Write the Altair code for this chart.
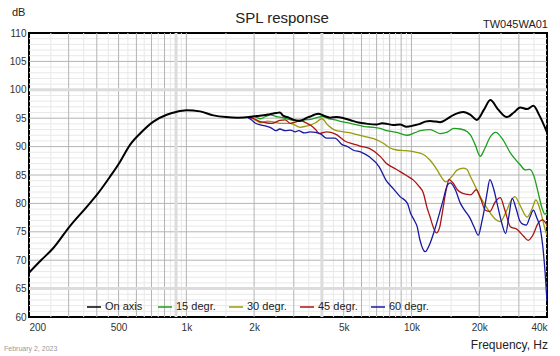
import altair as alt
import pandas as pd

# ---------------- data ----------------
series_names = ["On axis", "15 degr.", "30 degr.", "45 degr.", "60 degr."]
series_colors = ["#000000", "#1e9e1e", "#9a9a0c", "#aa1414", "#1818a0"]

freq_on = [200, 225, 256, 304, 361, 400, 458, 507, 562, 623, 714, 818, 900, 1000, 1150, 1320,
           1500, 1700, 1900, 2050, 2200, 2350, 2500, 2600, 2700, 2850, 3000, 3200, 3400, 3550,
           3700, 3850, 4100, 4350, 4650, 5000, 5400, 5900, 6400, 7000, 7400, 7800, 8300, 8900,
           9500, 10200, 10900, 11500, 12100, 12800, 13400, 14300, 15400, 17000, 18300, 19500,
           21000, 22400, 24300, 26500, 28500, 30400, 32600, 34800, 37000, 40000]
spl_on = [67.8, 69.9, 72.1, 76.0, 79.4, 81.5, 84.7, 87.3, 90.3, 92.3, 94.4, 95.6, 96.1, 96.4, 96.2, 95.5,
          95.2, 95.1, 95.2, 95.4, 95.5, 95.7, 95.9, 96.0, 95.4, 95.1, 94.7, 94.5, 95.0, 95.3,
          95.6, 95.8, 95.4, 95.1, 95.2, 95.0, 94.6, 94.2, 94.0, 93.9, 94.1, 94.0, 93.8, 93.9,
          93.5, 93.7, 94.0, 94.4, 94.5, 94.4, 94.3, 94.8, 95.6, 96.1, 95.6, 94.7,
          96.5, 98.2, 96.5, 95.2, 96.0, 96.9, 96.6, 97.2, 95.5, 92.5]

freq_15 = [1900, 2000, 2130, 2250, 2360, 2500, 2610, 2800, 2990, 3250, 3550, 3800, 4040, 4300,
           4570, 4900, 5340, 5800, 6200, 6800, 7260, 7780, 8600, 9550, 10300, 10940, 12100, 13400,
           14500, 15400, 16500, 17700, 18300, 19200, 20200, 21200, 22300, 23700, 25300, 27500,
           30400, 32000, 33500, 35000, 36500, 38000, 39200, 40000]
spl_15 = [95.2, 95.3, 94.9, 95.3, 95.6, 95.3, 95.2, 94.9, 94.6, 94.7, 94.8, 95.1, 95.3, 94.9,
          94.7, 94.4, 94.1, 93.8, 93.5, 93.4, 93.2, 92.8, 92.5, 92.0, 92.4, 92.8, 93.0, 92.3,
          92.6, 93.2, 93.1, 92.6, 92.0, 90.3, 88.3, 89.7, 91.6, 92.5, 91.4, 88.9,
          86.8, 85.9, 86.0, 84.8, 82.0, 79.2, 78.1, 78.5]

freq_30 = [1900, 2000, 2130, 2300, 2450, 2600, 2780, 2900, 3100, 3200, 3400, 3550, 3750, 4000,
           4250, 4570, 5000, 5500, 6300, 7000, 7500, 8000, 8600, 9300, 10200, 11300, 12100, 13000,
           13600, 14200, 15000, 16000, 17000, 17600, 18300, 19200, 20200, 21300, 22400, 23600,
           24800, 26300, 27700, 28800, 30500, 32600, 34300, 35700, 37500, 39000, 40000]
spl_30 = [95.2, 94.8, 94.2, 94.5, 94.3, 94.1, 94.1, 94.1, 93.6, 93.4, 93.6, 93.8, 94.2, 94.9,
          93.8, 92.9, 92.6, 92.3, 91.7, 91.2, 90.6, 89.8, 89.4, 89.3, 89.1, 88.6, 87.6, 85.9,
          84.6, 83.8, 84.6, 85.9, 86.2, 86.0, 84.7, 83.0, 81.2, 79.6, 78.3, 77.2,
          76.8, 78.5, 80.5, 81.2, 79.5, 77.6, 79.0, 80.6, 78.5, 75.8, 74.4]

freq_45 = [1900, 2000, 2130, 2250, 2400, 2600, 2750, 2900, 3050, 3200, 3400, 3550, 3750, 3900,
           4200, 4600, 5100, 5500, 5900, 6500, 7300, 7700, 8300, 8900, 9500, 10200, 10800, 11300,
           11700, 12100, 12500, 12900, 13300, 13700, 14200, 14700, 15300, 16000, 16800, 17600,
           18300, 19400, 20300, 21300, 22300, 23500, 24800, 26000, 27500, 29500, 31500, 33000,
           34500, 36500, 38200, 40000]
spl_45 = [95.2, 94.9, 94.4, 94.2, 94.1, 94.6, 94.7, 94.1, 94.3, 94.6, 94.2, 93.8, 93.0, 92.3,
          92.6, 92.2, 90.9, 90.5, 90.1, 89.7, 88.2, 87.1, 86.3, 85.6, 84.9, 84.1, 83.0, 81.8,
          79.4, 77.6, 75.8, 74.8, 75.6, 78.3, 82.0, 84.2, 83.6, 82.4, 81.8, 81.6,
          81.5, 82.4, 80.8, 78.8, 78.6, 80.2, 81.0, 78.8, 75.9, 75.4, 74.2, 73.5,
          74.3, 76.5, 77.1, 76.2]

freq_60 = [1880, 1950, 2030, 2150, 2300, 2400, 2500, 2600, 2750, 2900, 3050, 3150, 3350, 3550,
           3750, 3930, 4200, 4570, 4900, 5200, 5500, 6000, 6500, 7200, 7700, 8300, 8900, 9600,
           9900, 10300, 10600, 10900, 11500, 12100, 12600, 13000, 13700, 14500, 14900, 15700,
           16500, 17300, 18200, 19000, 19800, 20500, 21100, 21700, 22300, 23200, 24200, 25200,
           26200, 27100, 28000, 29200, 30300, 31400, 32400, 33600, 34800, 36000, 37300, 38300,
           39200, 40000]
spl_60 = [95.1, 94.7, 94.1, 93.8, 93.5, 93.2, 92.8, 93.1, 92.8, 92.9, 92.6, 92.8, 92.4, 92.6,
          92.5, 92.3, 91.5, 91.5, 90.4, 90.0, 89.4, 89.0, 88.2, 86.4, 84.1, 82.6, 81.2, 80.0,
          78.3, 77.0, 75.9, 73.6, 71.5, 73.0, 75.0, 76.8, 80.0, 83.3, 83.6, 82.3,
          80.0, 78.7, 77.4, 75.8, 74.4, 76.6, 79.1, 82.0, 84.2, 82.5, 79.4, 76.5,
          74.7, 77.8, 80.9, 79.0, 76.9, 76.3, 76.2, 77.6, 78.8, 77.5, 75.7, 72.5,
          68.0, 62.8]

x_tick_values = [200, 500, 1000, 2000, 5000, 10000, 20000, 40000]
y_tick_values = [60, 65, 70, 75, 80, 85, 90, 95, 100, 105, 110]

grid_major_freq = [300, 400, 500, 600, 700, 800, 1000, 2000, 3000, 5000, 6000, 7000,
                   8000, 9000, 10000, 20000, 30000]
grid_minor_freq = [250, 350, 450, 550, 650, 750, 850, 950, 1500, 2500, 3500, 4500, 5500,
                   6500, 7500, 8500, 9500, 15000, 25000, 35000]
grid_band_freq = [900, 4000]
grid_major_db = [70, 75, 80, 85, 90, 95, 105]
grid_minor_db = [v for v in range(61, 110) if v % 5 != 0]
grid_band_db = [65, 100]

# ---------------- build tables ----------------
all_series = [(series_names[0], freq_on, spl_on), (series_names[1], freq_15, spl_15),
              (series_names[2], freq_30, spl_30), (series_names[3], freq_45, spl_45),
              (series_names[4], freq_60, spl_60)]
rows = []
for name, fs, ds in all_series:
    for f, d in zip(fs, ds):
        rows.append({"series": name, "freq": f, "spl": d})
df = pd.DataFrame(rows)
df_black = df[df["series"] == "On axis"]
df_col = df[df["series"] != "On axis"]

FONT = "Liberation Sans"
x_scale = alt.Scale(type="log", domain=[200, 40000], nice=False)
y_scale = alt.Scale(domain=[60, 110], nice=False, zero=False)
color_scale = alt.Scale(domain=series_names, range=series_colors)

x_axis = alt.Axis(values=x_tick_values, grid=False, domain=False, ticks=False, title=None,
                  labelFlush=True, labelPadding=5, labelFontSize=10, labelFont=FONT,
                  labelColor="#333333",
                  labelExpr="datum.value >= 1000 ? (datum.value / 1000) + 'k' : datum.value")
y_axis = alt.Axis(values=y_tick_values, grid=False, domain=False, ticks=False, title=None,
                  labelPadding=3, labelFontSize=10, labelFont=FONT, labelColor="#333333")

legend = alt.Legend(orient="none", legendX=57, legendY=266, direction="horizontal",
                    gridAlign="all", columnPadding=10, symbolType="stroke", symbolSize=196,
                    symbolStrokeWidth=1.5, labelFontSize=11, labelFont=FONT,
                    labelColor="#222222", labelOffset=3, title=None, padding=0)


def vrules(vals, color, width):
    return alt.Chart(pd.DataFrame({"freq": vals})).mark_rule(color=color, strokeWidth=width).encode(
        x=alt.X("freq:Q", scale=x_scale, axis=x_axis))


def hrules(vals, color, width):
    return alt.Chart(pd.DataFrame({"spl": vals})).mark_rule(color=color, strokeWidth=width).encode(
        y=alt.Y("spl:Q", scale=y_scale, axis=y_axis))


grid = [
    vrules(grid_minor_freq, "#e8e8e8", 1), hrules(grid_minor_db, "#e8e8e8", 1),
    vrules(grid_major_freq, "#b4b4b4", 1), hrules(grid_major_db, "#b4b4b4", 1),
    vrules(grid_band_freq, "#dcdcdc", 3), hrules(grid_band_db, "#dcdcdc", 3),
]

colored = alt.Chart(df_col).mark_line(strokeWidth=1.3, interpolate="monotone", clip=True).encode(
    x=alt.X("freq:Q", scale=x_scale, axis=x_axis),
    y=alt.Y("spl:Q", scale=y_scale, axis=y_axis),
    color=alt.Color("series:N", scale=color_scale, legend=legend),
)
black = alt.Chart(df_black).mark_line(strokeWidth=2, interpolate="monotone", clip=True).encode(
    x=alt.X("freq:Q", scale=x_scale, axis=x_axis),
    y=alt.Y("spl:Q", scale=y_scale, axis=y_axis),
    color=alt.Color("series:N", scale=color_scale, legend=legend),
)


def label(text, x, y, size, align="left", color="#222222"):
    return alt.Chart(pd.DataFrame({"t": [text]})).mark_text(
        font=FONT, fontSize=size, align=align, baseline="middle", color=color
    ).encode(text="t:N", x=alt.value(x), y=alt.value(y))


texts = [
    label("SPL response", 253, -15, 15, "center"),
    label("dB", -17, -20, 11),
    label("TW045WA01", 519, -8, 11, "right"),
    label("Frequency, Hz", 519, 312, 12, "right"),
    label("February 2, 2023", -25, 316, 7, "left", "#999999"),
]

chart = alt.layer(*grid, colored, black, *texts).properties(
    width=518, height=284,
    autosize=alt.AutoSizeParams(type="none"),
    padding={"left": 29, "top": 33, "right": 13, "bottom": 39},
    background="white",
).configure_view(stroke="black", strokeWidth=2)

chart.save("out.html", embed_options={"renderer": "svg", "actions": False})
